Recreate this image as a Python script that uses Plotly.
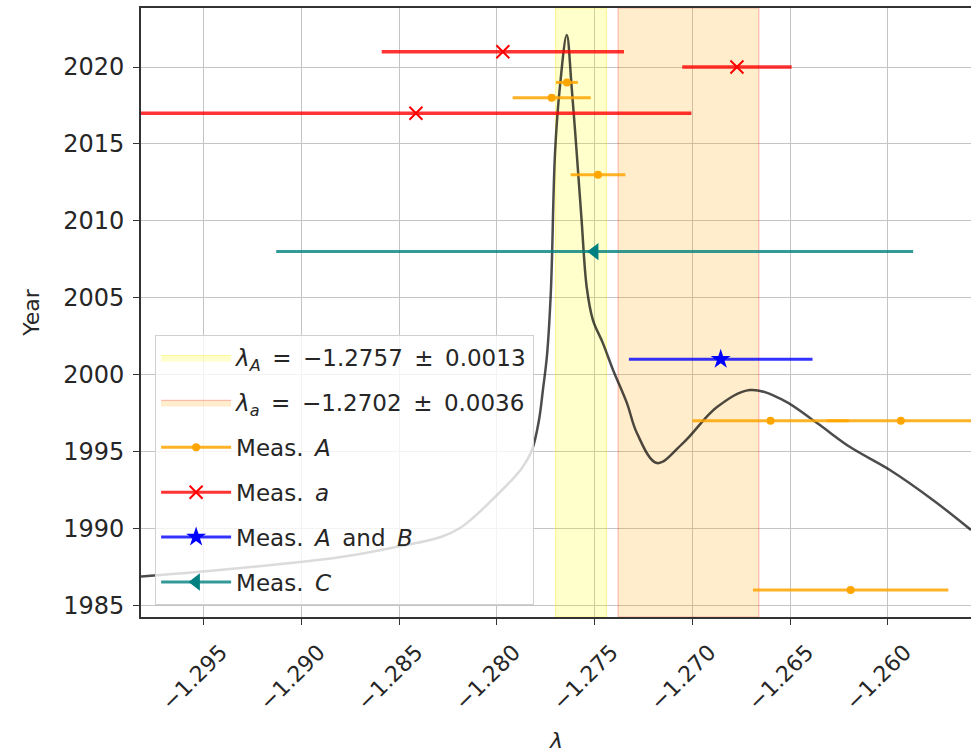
import plotly.graph_objects as go

# ---------------- data ----------------
lam_A, lam_A_err = -1.2757, 0.0013
lam_a, lam_a_err = -1.2702, 0.0036

measA_x = [-1.27642, -1.2772, -1.27483, -1.2660, -1.25933, -1.2619]
measA_err = [0.00056, 0.0020, 0.0014, 0.0040, 0.0038, 0.0050]
measA_year = [2019, 2018, 2013, 1997, 1997, 1986]

measa_x = [-1.2797, -1.26772, -1.28415]
measa_err = [0.0062, 0.0028, 0.0141]
measa_year = [2021, 2020, 2017]

measAB_x = [-1.26855]
measAB_err = [0.0047]
measAB_year = [2001]

measC_x = [-1.2750]
measC_err = [0.0163]
measC_year = [2008]

curve_x = [-1.29822, -1.29310, -1.28798, -1.28542, -1.28287, -1.28189, -1.28118,
           -1.28036, -1.27934, -1.27872,
           -1.27821, -1.27785, -1.27765, -1.27744, -1.27724, -1.27703, -1.27678,
           -1.27643,
           -1.27618, -1.27592, -1.27567, -1.27541, -1.27509, -1.27458, -1.27406,
           -1.27335, -1.27284, -1.27181, -1.27048, -1.26874, -1.26705, -1.26536,
           -1.26362, -1.26193, -1.25989, -1.25769, -1.25574]
curve_y = [1986.87, 1987.43, 1988.14, 1988.73, 1989.44, 1990.03, 1990.74,
           1991.72, 1993.02, 1993.93,
           1995.10, 1997.05, 1999.00, 2001.27, 2005.49, 2014.41, 2018.72,
           2022.08,
           2018.72, 2014.41, 2010.05, 2005.70, 2003.55, 2002.05, 2000.30,
           1998.15, 1996.20, 1994.25, 1995.55, 1997.89, 1999.00, 1998.35,
           1996.85, 1995.29, 1993.80, 1991.85, 1989.90]

x_range = [-1.29822, -1.25574]
y_range = [1984.24, 2023.84]
x_ticks = [-1.295, -1.290, -1.285, -1.280, -1.275, -1.270, -1.265, -1.260]
y_ticks = [1985, 1990, 1995, 2000, 2005, 2010, 2015, 2020]
x_label = "<i>λ</i>"
y_label = "Year"

FONT = "DejaVu Sans"
FS = 22
SP = "\u2002"
fig = go.Figure()

def band(lam, err, fill, edge, name):
    lo, hi = lam - err, lam + err
    fig.add_trace(go.Scatter(
        x=[lo, hi, hi, lo, lo], y=[y_range[0], y_range[0], y_range[1], y_range[1], y_range[0]],
        mode="lines", fill="toself", fillcolor=fill, line=dict(color=edge, width=1.2),
        name=name, legendgroup=name, hoverinfo="skip"))

band(lam_A, lam_A_err, "rgba(255,255,0,0.2)", "rgba(255,230,0,0.35)",
     f"<i>λ</i><sub><i>A</i></sub>{SP}={SP}−1.2757{SP}±{SP}0.0013")
band(lam_a, lam_a_err, "rgba(255,165,0,0.2)", "rgba(255,0,0,0.25)",
     f"<i>λ</i><sub><i>a</i></sub>{SP}={SP}−1.2702{SP}±{SP}0.0036")

# curve
fig.add_trace(go.Scatter(x=curve_x, y=curve_y, mode="lines",
                         line=dict(color="rgba(0,0,0,0.7)", width=2.5, shape="spline", smoothing=1.0),
                         showlegend=False, hoverinfo="skip"))

def meas(xs, errs, ys, color, ecolor, symbol, size, name, lw=0, thick=3):
    fig.add_trace(go.Scatter(
        x=xs, y=ys, mode="markers",
        marker=dict(color=color, symbol=symbol, size=size, line=dict(color=color, width=lw)),
        error_x=dict(type="data", array=errs, color=ecolor, thickness=thick, width=0),
        showlegend=False))
    fig.add_trace(go.Scatter(
        x=[None], y=[None], mode="lines+markers", name=name, legendgroup=name,
        marker=dict(color=color, symbol=symbol, size=size, line=dict(color=color, width=lw)),
        line=dict(color=ecolor, width=3)))

meas(measA_x, measA_err, measA_year, "orange", "rgba(255,165,0,0.85)", "circle", 8,
     f"Meas.{SP}<i>A</i>")
meas(measa_x, measa_err, measa_year, "red", "rgba(255,0,0,0.8)", "x-thin", 13,
     f"Meas.{SP}<i>a</i>", lw=2, thick=3.5)
meas(measAB_x, measAB_err, measAB_year, "blue", "rgba(0,0,255,0.8)", "star", 15,
     f"Meas.{SP}<i>A</i>{SP}and{SP}<i>B</i>")
meas(measC_x, measC_err, measC_year, "teal", "rgba(0,128,128,0.8)", "triangle-left", 15,
     f"Meas.{SP}<i>C</i>")

fig.add_annotation(text=x_label, xref="paper", yref="paper", x=0.5, y=0,
                   xanchor="center", yanchor="middle", yshift=-123, showarrow=False,
                   font=dict(family=FONT, size=FS, color="#262626"))

fig.update_layout(
    width=971, height=755,
    margin=dict(l=141, r=0, t=8, b=138),
    plot_bgcolor="white", paper_bgcolor="white",
    font=dict(family=FONT, size=FS, color="#262626"),
    showlegend=True,
    legend=dict(x=0.017, y=0.463, xanchor="left", yanchor="top",
                bgcolor="rgba(255,255,255,0.8)", bordercolor="#d0d0d0", borderwidth=1,
                font=dict(family=FONT, size=23, color="#262626"),
                traceorder="grouped", tracegroupgap=12, itemwidth=70),
    xaxis=dict(range=x_range, tickvals=x_ticks, tickformat=".3f", tickangle=-45,
               tickfont=dict(size=22),
               showgrid=True, gridcolor="#c4c4c4", gridwidth=1.2,
               showline=True, linecolor="#333333", linewidth=1.6, mirror=True,
               ticks="outside", ticklen=6, tickcolor="#333333",
               ticklabelshift=17, ticklabelstandoff=6,
               zeroline=False, automargin=False),
    yaxis=dict(range=y_range, tickvals=y_ticks, tickfont=dict(size=24),
               showgrid=True, gridcolor="#c4c4c4", gridwidth=1.2,
               showline=True, linecolor="#333333", linewidth=1.6,
               ticks="outside", ticklen=6, tickcolor="#333333", ticklabelstandoff=4,
               zeroline=False, automargin=False,
               title=dict(text=y_label, font=dict(size=FS), standoff=18)),
)

fig.write_html("out.html", config={"displayModeBar": False},
               post_script="document.body.style.margin='0';document.body.style.overflow='hidden';")
